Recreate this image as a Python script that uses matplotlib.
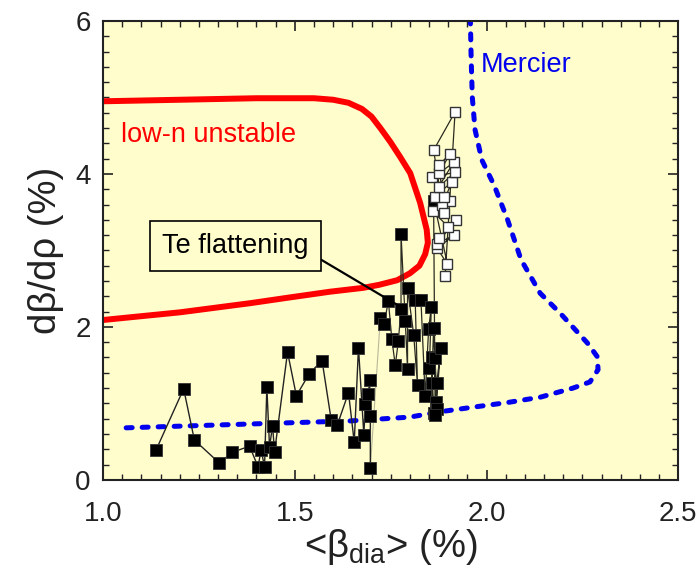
import matplotlib
matplotlib.use("Agg")
import matplotlib.pyplot as plt
from matplotlib.ticker import MultipleLocator, FormatStrFormatter

plt.rcParams['font.family'] = ['Liberation Sans', 'DejaVu Sans']
plt.rcParams['mathtext.fontset'] = 'custom'
plt.rcParams['mathtext.rm'] = 'Liberation Sans'

# low-n unstable boundary (red)
lown_x = [1.0, 1.2, 1.4, 1.55, 1.60, 1.64, 1.675, 1.70, 1.723, 1.749, 1.775, 1.801, 1.827,
          1.844, 1.847, 1.84, 1.825, 1.80, 1.767, 1.72, 1.678, 1.592, 1.48, 1.384, 1.2, 1.0]
lown_y = [4.95, 4.97, 4.99, 4.99, 4.97, 4.93, 4.85, 4.75, 4.60, 4.42, 4.22, 4.01, 3.62,
          3.27, 3.10, 2.95, 2.80, 2.70, 2.61, 2.55, 2.51, 2.46, 2.38, 2.31, 2.19, 2.09]

# Mercier boundary (blue dashed)
merc_x = [1.06, 1.384, 1.644, 1.80, 1.879, 1.965, 2.054, 2.14, 2.226, 2.27, 2.291,
          2.289, 2.263, 2.192, 2.14, 2.09, 2.055, 2.02, 1.988, 1.97, 1.963, 1.96, 1.958]
merc_y = [0.68, 0.73, 0.77, 0.82, 0.89, 0.95, 1.01, 1.08, 1.20, 1.28, 1.44,
          1.61, 1.79, 2.18, 2.44, 2.88, 3.40, 3.85, 4.18, 4.58, 5.0, 5.5, 6.0]

# experimental points, early phase (filled)
exp1_x = [1.138, 1.21, 1.238, 1.303, 1.337, 1.382, 1.404, 1.412, 1.421, 1.427, 1.434,
          1.442, 1.447, 1.481, 1.504, 1.538, 1.571, 1.595, 1.611, 1.64, 1.655, 1.666,
          1.68, 1.684, 1.692, 1.695, 1.697, 1.697]
exp1_y = [0.39, 1.19, 0.52, 0.22, 0.36, 0.44, 0.17, 0.39, 0.17, 1.21, 0.43,
          0.71, 0.36, 1.67, 1.10, 1.39, 1.56, 0.78, 0.72, 1.14, 0.49, 1.73,
          0.59, 0.99, 1.12, 1.31, 0.83, 0.16]

# experimental points, Te flattening phase (filled)
exp2_x = [1.723, 1.733, 1.744, 1.753, 1.762, 1.77, 1.777, 1.777, 1.788, 1.794, 1.794,
          1.81, 1.82, 1.814, 1.829, 1.84, 1.849, 1.856, 1.851, 1.857, 1.862, 1.857,
          1.862, 1.869, 1.866, 1.87, 1.87, 1.881, 1.866, 1.862]
exp2_y = [2.11, 2.04, 2.34, 1.84, 1.50, 1.81, 2.24, 3.22, 2.08, 1.45, 2.51,
          1.90, 1.24, 2.35, 2.35, 1.09, 1.97, 2.26, 1.46, 1.61, 0.87, 1.26,
          1.98, 1.02, 1.59, 0.92, 1.26, 1.72, 0.85, 3.65]

# experimental points, late phase (open)
exp3_x = [1.898, 1.871, 1.916, 1.872, 1.92, 1.877, 1.90, 1.86, 1.905, 1.884, 1.91,
          1.866, 1.89, 1.857, 1.918, 1.875, 1.914, 1.877, 1.904, 1.877, 1.888, 1.862,
          1.918, 1.892]
exp3_y = [2.82, 3.03, 3.20, 3.09, 3.40, 3.16, 3.31, 3.51, 3.64, 3.59, 3.90,
          3.70, 3.70, 3.96, 4.02, 3.83, 4.15, 4.01, 4.26, 4.12, 3.49, 4.31,
          4.81, 2.66]

bg = '#FFFDCC'

fig = plt.figure(figsize=(6.97, 5.83), dpi=100)
ax = fig.add_axes([0.148, 0.177, 0.825, 0.787])
ax.set_facecolor(bg)

ax.plot(lown_x, lown_y, color='#FF0000', lw=4.3, solid_capstyle='butt',
        solid_joinstyle='round', zorder=2)
ax.plot(merc_x, merc_y, color='#0000EE', lw=3.6, dashes=(1.2, 2.0),
        dash_capstyle='round', zorder=2)

# connecting lines
ax.plot([exp1_x[-1], exp2_x[0]], [exp1_y[-1], exp2_y[0]], color='#B8B89A', lw=0.8, zorder=3)
ax.plot(exp1_x, exp1_y, color='#222222', lw=1.0, zorder=3)
ax.plot(exp2_x, exp2_y, color='#2a2a20', lw=0.9, zorder=3)
ax.plot([exp2_x[-1]] + exp3_x, [exp2_y[-1]] + exp3_y, color='#2a2a20', lw=0.9, zorder=3)

ax.plot(exp1_x, exp1_y, 's', ms=8, mfc='black', mec='#333333', mew=0.6, zorder=4)
ax.plot(exp2_x, exp2_y, 's', ms=8, mfc='black', mec='#333333', mew=0.6, zorder=4)
ax.plot(exp3_x, exp3_y, 's', ms=7, mfc='white', mec='#333333', mew=1.0, zorder=5)

ax.text(1.984, 5.42, 'Mercier', color='#0000EE', fontsize=19.5, ha='left', va='center')
ax.text(1.047, 4.51, 'low-n unstable', color='#FF0000', fontsize=19.5, ha='left', va='center')
ax.annotate('Te flattening', xy=(1.79, 2.22), xytext=(1.345, 3.06),
            fontsize=19.5, ha='center', va='center',
            bbox=dict(boxstyle='square,pad=0.45', fc=bg, ec='black', lw=1.2),
            arrowprops=dict(arrowstyle='-', color='black', lw=1.6,
                            relpos=(1.0, 0.25), shrinkA=0, shrinkB=0),
            zorder=6)

ax.set_xlim(1.0, 2.5)
ax.set_ylim(0, 6)
ax.xaxis.set_major_locator(MultipleLocator(0.5))
ax.xaxis.set_minor_locator(MultipleLocator(0.05))
ax.yaxis.set_major_locator(MultipleLocator(2))
ax.yaxis.set_minor_locator(MultipleLocator(0.2))
ax.xaxis.set_major_formatter(FormatStrFormatter('%.1f'))
ax.tick_params(which='both', direction='in', top=True, right=True, labelsize=20,
               colors='#222222', labelcolor='#222222')
ax.tick_params(which='major', length=7, width=1.2, pad=9)
ax.tick_params(axis='x', which='major', pad=15)
ax.tick_params(which='minor', length=4, width=1.0)
for s in ax.spines.values():
    s.set_linewidth(1.5)
    s.set_color('#222222')

ax.set_xlabel('<β$_{\\mathregular{dia}}$> (%)', fontsize=27.5, labelpad=0, color='#222222')
ax.set_ylabel('dβ/dρ (%)', fontsize=27.5, labelpad=8, color='#222222')

fig.savefig('out.png', dpi=100)
